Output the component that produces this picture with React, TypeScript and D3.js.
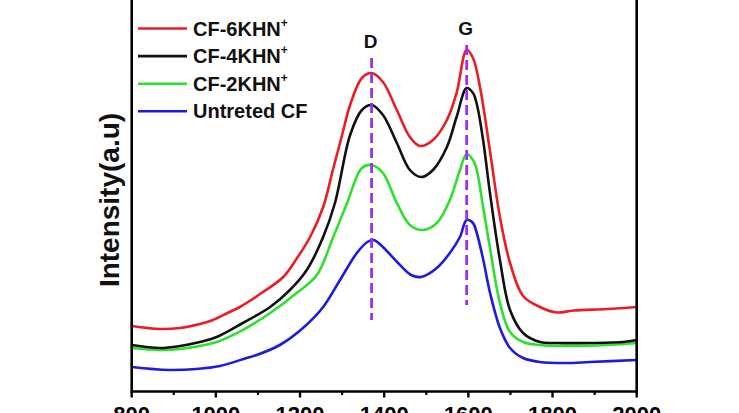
import React from 'react';
import * as d3 from 'd3';

// Raman shift (cm-1) and intensity (a.u.)
const cf6: [number, number][] = [
  [800, 640], [867, 610], [915, 620], [962, 660], [993, 700], [1030, 775], [1057, 830],
  [1112, 980], [1160, 1130], [1193, 1320], [1224, 1530], [1255, 1830], [1278, 2200],
  [1300, 2550], [1319, 2850], [1347, 3120], [1370, 3170], [1397, 3080], [1430, 2800],
  [1461, 2530], [1485, 2440], [1516, 2500], [1549, 2700], [1572, 2970], [1596, 3400],
  [1611, 3320], [1628, 3020], [1651, 2400], [1675, 1730], [1699, 1270], [1730, 940],
  [1770, 830], [1810, 775], [1849, 795], [1929, 810], [2000, 830],
];
const cf4: [number, number][] = [
  [800, 450], [867, 420], [915, 440], [962, 480], [1002, 530], [1064, 670], [1129, 830],
  [1176, 1000], [1216, 1200], [1255, 1530], [1283, 1870], [1319, 2550], [1347, 2800],
  [1370, 2850], [1397, 2750], [1430, 2470], [1461, 2200], [1488, 2130], [1516, 2200],
  [1549, 2430], [1572, 2730], [1596, 3020], [1611, 2970], [1620, 2860], [1635, 2500],
  [1651, 1980], [1675, 1300], [1699, 800], [1730, 570], [1770, 480], [1810, 470],
  [1890, 470], [1968, 480], [2000, 500],
];
const cf2: [number, number][] = [
  [800, 420], [867, 400], [915, 410], [1002, 480], [1064, 600], [1129, 770], [1192, 970],
  [1240, 1150], [1278, 1520], [1310, 1850], [1347, 2220], [1370, 2250], [1397, 2170],
  [1430, 1870], [1461, 1650], [1492, 1600], [1525, 1670], [1556, 1900], [1580, 2200],
  [1596, 2360], [1611, 2300], [1620, 2200], [1635, 1830], [1651, 1430], [1675, 870],
  [1699, 580], [1730, 480], [1770, 450], [1849, 440], [1929, 450], [2000, 470],
];
const untreated: [number, number][] = [
  [800, 230], [888, 200], [954, 210], [1010, 240], [1073, 320], [1097, 350], [1152, 450],
  [1207, 620], [1255, 830], [1295, 1100], [1335, 1370], [1360, 1480], [1375, 1500],
  [1392, 1450], [1433, 1270], [1464, 1150], [1488, 1130], [1525, 1220], [1556, 1370],
  [1580, 1530], [1596, 1700], [1611, 1670], [1620, 1570], [1635, 1310], [1651, 980],
  [1675, 620], [1699, 420], [1730, 320], [1770, 280], [1833, 270], [1889, 280], [2000, 300],
];

const seriesNames = ['CF-6KHN', 'CF-4KHN', 'CF-2KHN', 'Untreted CF'];
const seriesSup = ['+', '+', '+', ''];
const seriesColors = ['#ec1c24', '#111111', '#2ee02e', '#1c1ce0'];
const seriesData = [cf6, cf4, cf2, untreated];

// D and G band markers: [position, top, bottom]
const bandLabels = ['D', 'G'];
const bandPos = [1370, 1596];
const bandTop = [3320, 3450];
const bandBottom = [700, 850];

const xTicks = [800, 1000, 1200, 1400, 1600, 1800, 2000];
const xMinor = [900, 1100, 1300, 1500, 1700, 1900];

const W = 739;
const H = 413;
const left = 131.7;
const right = 636.7;
const bottom = 391.5;
const top = -10;

const App: React.FC = () => {
  const x = d3.scaleLinear().domain([800, 2000]).range([left, right]);
  const y = d3.scaleLinear().domain([-15, 4000]).range([bottom, top]);

  const line = d3
    .line<[number, number]>()
    .x(d => x(d[0]))
    .y(d => y(d[1]))
    .curve(d3.curveCatmullRom.alpha(0.5));

  const font = 'Liberation Sans, Arial, sans-serif';

  return (
    <svg
      width={W}
      height={H}
      style={{ position: 'absolute', left: 0, top: 0, background: '#fff' }}
      fontFamily={font}
      fontWeight="bold"
    >
      {/* curves, drawn back to front */}
      {seriesData
        .map((d, i) => ({ d, i }))
        .reverse()
        .map(({ d, i }) => (
          <path
            key={seriesNames[i]}
            d={line(d) ?? ''}
            fill="none"
            stroke={seriesColors[i]}
            strokeWidth={2.6}
            strokeLinejoin="round"
          />
        ))}

      {/* D / G dashed markers */}
      {bandPos.map((p, i) => (
        <g key={bandLabels[i]}>
          <line
            x1={x(p)}
            x2={x(p)}
            y1={y(bandTop[i])}
            y2={y(bandBottom[i])}
            stroke="#9b30f0"
            strokeWidth={2.8}
            strokeDasharray="10,5"
          />
          <text
            x={x(p) - 1}
            y={y(bandTop[i]) - 10}
            textAnchor="middle"
            fontSize={19}
            fill="#111"
          >
            {bandLabels[i]}
          </text>
        </g>
      ))}

      {/* frame */}
      <line x1={left} x2={left} y1={top} y2={bottom + 1.2} stroke="#000" strokeWidth={2.6} />
      <line x1={right} x2={right} y1={top} y2={bottom + 1.2} stroke="#000" strokeWidth={2.6} />
      <line x1={left} x2={right} y1={bottom} y2={bottom} stroke="#000" strokeWidth={2.6} />

      {xTicks.map(t => (
        <g key={t}>
          <line x1={x(t)} x2={x(t)} y1={bottom} y2={bottom + 6} stroke="#000" strokeWidth={2.4} />
          <text x={x(t)} y={bottom + 30} textAnchor="middle" fontSize={22} fill="#000">
            {t}
          </text>
        </g>
      ))}
      {xMinor.map(t => (
        <line key={t} x1={x(t)} x2={x(t)} y1={bottom} y2={bottom + 3.5} stroke="#000" strokeWidth={2.2} />
      ))}

      {/* y title */}
      <text
        transform={`translate(119, 200) rotate(-90)`}
        textAnchor="middle"
        fontSize={28}
        fill="#111"
      >
        Intensity(a.u)
      </text>

      {/* legend */}
      {seriesNames.map((n, i) => {
        const ly = 28.5 + i * 27.6;
        return (
          <g key={n}>
            <line x1={138} x2={187} y1={ly} y2={ly} stroke={seriesColors[i]} strokeWidth={2.6} />
            <text x={193} y={ly + 7} fontSize={20} fill="#111">
              {n}
              {seriesSup[i] && (
                <tspan fontSize={12} dy={-9}>
                  {seriesSup[i]}
                </tspan>
              )}
            </text>
          </g>
        );
      })}
    </svg>
  );
};

export default App;
